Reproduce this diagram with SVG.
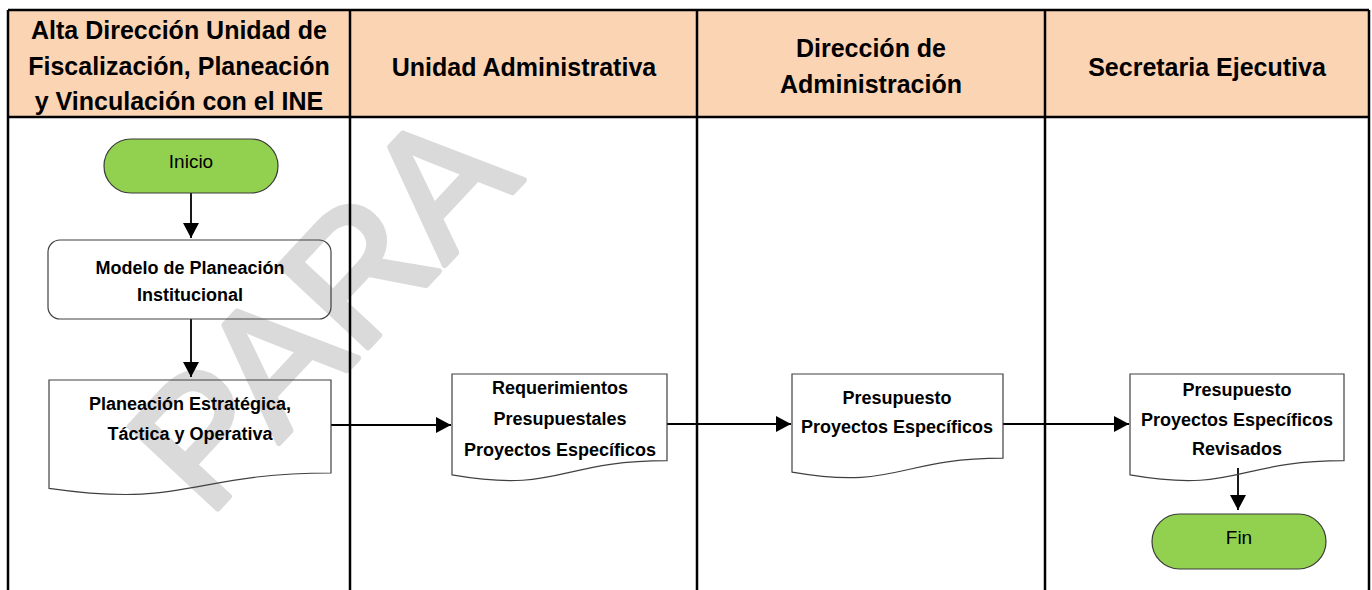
<svg xmlns="http://www.w3.org/2000/svg" width="1372" height="590" viewBox="0 0 1372 590">
<style>
.hdr{font-family:"Liberation Sans",Arial,sans-serif;font-weight:bold;font-size:25px;fill:#000;text-anchor:middle}
.lbl{font-family:"Liberation Sans",Arial,sans-serif;font-weight:bold;font-size:18px;fill:#000;text-anchor:middle}
.term-t{font-family:"Liberation Sans",Arial,sans-serif;font-size:19px;fill:#000;text-anchor:middle}
.grid{stroke:#000;stroke-width:2.5;fill:none}
.shape{fill:none;stroke:#404040;stroke-width:1.2}
.term{fill:#92d050;stroke:#3a3a3a;stroke-width:1.2}
.conn{stroke:#000;stroke-width:1.8;fill:none}
.wm{font-family:"Liberation Sans",Arial,sans-serif;font-size:175px;fill:#dadada;stroke:#dadada;stroke-width:6;stroke-linejoin:round}
</style>
<defs>
<marker id="arr" markerUnits="userSpaceOnUse" markerWidth="16" markerHeight="16" refX="15" refY="8" orient="auto">
<path d="M0,0 L15,8 L0,16 Z" fill="#000"/>
</marker>
</defs>
<rect x="0" y="0" width="1372" height="590" fill="#fff"/>
<g id="watermark">
<text class="wm" x="208" y="519" transform="rotate(-47 208 519)">PARA</text>
</g>
<g id="lanes">
<rect x="8" y="10" width="342" height="107" fill="#fbd4b4"/>
<rect x="350" y="10" width="347" height="107" fill="#fbd4b4"/>
<rect x="697" y="10" width="348" height="107" fill="#fbd4b4"/>
<rect x="1045" y="10" width="324" height="107" fill="#fbd4b4"/>
<path class="grid" d="M8,10 H1369 M8,117 H1369 M8,10 V590 M350,10 V590 M697,10 V590 M1045,10 V590 M1369,10 V590"/>
<text class="hdr" x="179" y="39">Alta Dirección Unidad de</text>
<text class="hdr" x="179" y="75">Fiscalización, Planeación</text>
<text class="hdr" x="179" y="110">y Vinculación con el INE</text>
<text class="hdr" x="524" y="76">Unidad Administrativa</text>
<text class="hdr" x="871" y="57">Dirección de</text>
<text class="hdr" x="871" y="93">Administración</text>
<text class="hdr" x="1207" y="76">Secretaria Ejecutiva</text>
</g>
<g id="connectors">
<line class="conn" x1="191" y1="193" x2="191" y2="238" marker-end="url(#arr)"/>
<line class="conn" x1="191" y1="319" x2="191" y2="377" marker-end="url(#arr)"/>
<line class="conn" x1="331" y1="425" x2="451" y2="425" marker-end="url(#arr)"/>
<line class="conn" x1="667" y1="424" x2="791" y2="424" marker-end="url(#arr)"/>
<line class="conn" x1="1003" y1="424" x2="1129" y2="424" marker-end="url(#arr)"/>
<line class="conn" x1="1238" y1="468" x2="1238" y2="510" marker-end="url(#arr)"/>
</g>
<g id="inicio">
<rect class="term" x="104" y="139" width="174" height="54" rx="27" ry="27"/>
<text class="term-t" x="191" y="168">Inicio</text>
</g>
<g id="modelo">
<rect class="shape" x="48" y="240" width="283" height="79" rx="12" ry="12"/>
<text class="lbl" x="190" y="274">Modelo de Planeación</text>
<text class="lbl" x="190" y="301">Institucional</text>
</g>
<g id="planeacion">
<path class="shape" d="M49,380 H331 V473 C190,473 190,508.5 49,488.3 Z"/>
<text class="lbl" x="190" y="410">Planeación Estratégica,</text>
<text class="lbl" x="190" y="440">Táctica y Operativa</text>
</g>
<g id="requerimientos">
<path class="shape" d="M452,374 H667 V460.6 C559.5,460.6 559.5,493.6 452,474.9 Z"/>
<text class="lbl" x="560" y="394">Requerimientos</text>
<text class="lbl" x="560" y="425">Presupuestales</text>
<text class="lbl" x="560" y="456">Proyectos Específicos</text>
</g>
<g id="presupuesto">
<path class="shape" d="M792,374 H1003 V458.2 C897.5,458.2 897.5,490.3 792,472.1 Z"/>
<text class="lbl" x="897" y="404">Presupuesto</text>
<text class="lbl" x="897" y="433">Proyectos Específicos</text>
</g>
<g id="revisados">
<path class="shape" d="M1130,374 H1344 V460.6 C1237,460.6 1237,493.6 1130,474.9 Z"/>
<text class="lbl" x="1237" y="396">Presupuesto</text>
<text class="lbl" x="1237" y="426">Proyectos Específicos</text>
<text class="lbl" x="1237" y="455">Revisados</text>
</g>
<g id="fin">
<rect class="term" x="1152" y="514" width="174" height="55" rx="27.5" ry="27.5"/>
<text class="term-t" x="1239" y="544">Fin</text>
</g>
</svg>
